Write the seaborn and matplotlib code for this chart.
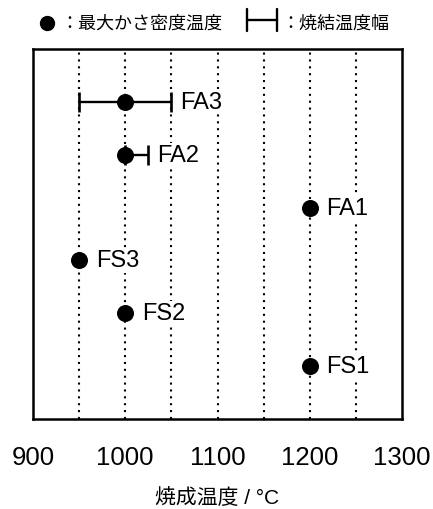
import numpy as np
import pandas as pd
import matplotlib
matplotlib.use("Agg")
import matplotlib.pyplot as plt
from matplotlib.lines import Line2D
import seaborn as sns

# ---- data ----
samples = ["FA3", "FA2", "FA1", "FS3", "FS2", "FS1"]
peak_temp = [1000, 1000, 1200, 950, 1000, 1200]          # 最大かさ密度温度
range_low = [950, 1000, np.nan, np.nan, np.nan, np.nan]   # 焼結温度幅 (下限)
range_high = [1050, 1025, np.nan, np.nan, np.nan, np.nan] # 焼結温度幅 (上限)
x_ticks = [900, 1000, 1100, 1200, 1300]
grid_x = [950, 1000, 1050, 1100, 1150, 1200, 1250]

sns.set_theme(style="white")
plt.rcParams['font.family'] = ['Liberation Sans', 'Noto Sans CJK JP', 'DejaVu Sans']
plt.rcParams['text.color'] = 'black'
plt.rcParams['axes.labelcolor'] = 'black'
plt.rcParams['xtick.color'] = 'black'
plt.rcParams['ytick.color'] = 'black'

df = pd.DataFrame({"sample": samples, "peak": peak_temp,
                   "low": range_low, "high": range_high})
df["pos"] = np.arange(len(df)) + 1

fig = plt.figure(figsize=(4.33, 5.10), dpi=100)
ax = fig.add_axes([33/433, 90/510, 369/433, 370/510])

# dotted vertical grid
for gx in grid_x:
    ax.axvline(gx, color="black", lw=1.5, linestyle=(0, (1.0, 2.3)), zorder=1)

# sintering range bars
rng = df.dropna(subset=["low"])
ax.hlines(rng["pos"], rng["low"], rng["high"], color="black", lw=1.7, zorder=2)
for _, r in rng.iterrows():
    for xv in (r["low"], r["high"]):
        ax.plot([xv], [r["pos"]], marker="|", markersize=14, mew=1.9,
                color="black", zorder=2)

# peak points
sns.scatterplot(data=df, x="peak", y="pos", s=150, color="black",
                edgecolor="black", linewidth=0, zorder=3, ax=ax, legend=False)

# labels
for _, r in df.iterrows():
    if not np.isnan(r["high"]):
        xa, off = r["high"], 6
    else:
        xa, off = r["peak"], 12
    ax.annotate(r["sample"], (xa, r["pos"]), xytext=(off, 0),
                textcoords="offset points", ha="left", va="center",
                fontsize=17, color="black", zorder=4,
                bbox=dict(boxstyle="square,pad=0.05", fc="white", ec="none"))

ax.set_xlim(900, 1300)
ax.set_ylim(len(df) + 1, 0)
ax.set_yticks([])
ax.set_xticks(x_ticks)
ax.tick_params(axis="x", length=0, pad=19, labelsize=18.5, labelcolor="black")
ax.set_xlabel("焼成温度 / °C", fontsize=15, labelpad=13, color="black")
ax.set_ylabel("")
for sp in ax.spines.values():
    sp.set_visible(True)
    sp.set_color("black")
    sp.set_linewidth(1.8)

# legend at top
fig.add_artist(Line2D([47/433], [1 - 24/510], marker="o", markersize=10,
                      color="black", transform=fig.transFigure))
fig.text(60/433, 1 - 24/510, "：最大かさ密度温度", fontsize=13,
         ha="left", va="center", color="black")
y0 = 1 - 21/510
fig.add_artist(Line2D([247/433, 277/433], [y0, y0], color="black", lw=1.7,
                      transform=fig.transFigure))
for xv in (247/433, 277/433):
    fig.add_artist(Line2D([xv, xv], [1 - 10/510, 1 - 32/510], color="black",
                          lw=1.7, transform=fig.transFigure))
fig.text(281/433, 1 - 24/510, "：焼結温度幅", fontsize=13,
         ha="left", va="center", color="black")

fig.savefig("out.png", dpi=100)
